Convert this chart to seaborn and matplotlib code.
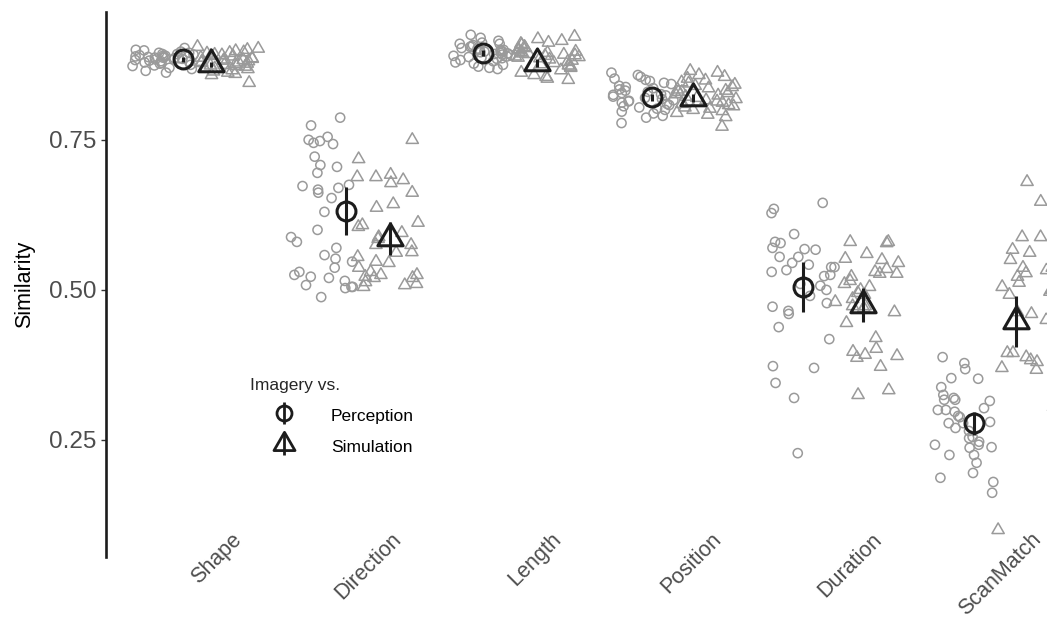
import numpy as np
import pandas as pd
import matplotlib
matplotlib.use("Agg")
import matplotlib.pyplot as plt
import matplotlib.transforms as mtransforms
from matplotlib.path import Path
from matplotlib.lines import Line2D
from matplotlib.legend_handler import HandlerTuple
import seaborn as sns

# ---------------------------------------------------------------- data
measures = ["Shape", "Direction", "Length", "Position", "Duration", "ScanMatch"]
comparisons = ["Perception", "Simulation"]

# per-participant similarity scores, imagery vs. perception
shape_perception = [0.900, 0.897, 0.895, 0.893, 0.892, 0.890, 0.890, 0.889, 0.888, 0.887,
                    0.886, 0.885, 0.884, 0.883, 0.882, 0.880, 0.879, 0.877, 0.875, 0.873,
                    0.870, 0.868, 0.865, 0.862, 0.895, 0.891, 0.888, 0.886, 0.884, 0.881,
                    0.899, 0.893, 0.887, 0.878, 0.874, 0.903]
direction_perception = [0.787, 0.774, 0.755, 0.750, 0.748, 0.745, 0.743, 0.722, 0.708, 0.705,
                        0.695, 0.675, 0.673, 0.670, 0.667, 0.662, 0.653, 0.630, 0.600, 0.588,
                        0.580, 0.570, 0.558, 0.552, 0.547, 0.537, 0.525, 0.522, 0.520, 0.508,
                        0.505, 0.505, 0.503, 0.488, 0.515, 0.530]
length_perception = [0.925, 0.920, 0.915, 0.912, 0.910, 0.908, 0.906, 0.905, 0.903, 0.902,
                     0.900, 0.899, 0.898, 0.897, 0.896, 0.895, 0.894, 0.893, 0.892, 0.891,
                     0.890, 0.889, 0.888, 0.887, 0.886, 0.885, 0.883, 0.881, 0.879, 0.877,
                     0.875, 0.872, 0.870, 0.868, 0.900, 0.910]
position_perception = [0.862, 0.858, 0.855, 0.852, 0.850, 0.848, 0.845, 0.843, 0.840, 0.838,
                       0.836, 0.834, 0.832, 0.830, 0.828, 0.826, 0.824, 0.822, 0.820, 0.818,
                       0.816, 0.814, 0.812, 0.810, 0.808, 0.806, 0.804, 0.802, 0.800, 0.797,
                       0.794, 0.790, 0.787, 0.778, 0.825, 0.815]
duration_perception = [0.645, 0.635, 0.628, 0.593, 0.580, 0.578, 0.570, 0.568, 0.567, 0.555,
                       0.555, 0.545, 0.542, 0.538, 0.538, 0.533, 0.530, 0.523, 0.525, 0.510,
                       0.507, 0.500, 0.490, 0.478, 0.472, 0.465, 0.460, 0.438, 0.418, 0.373,
                       0.370, 0.345, 0.320, 0.228]
scanmatch_perception = [0.388, 0.378, 0.368, 0.353, 0.352, 0.338, 0.325, 0.320, 0.317, 0.317,
                        0.315, 0.303, 0.300, 0.297, 0.300, 0.288, 0.278, 0.278, 0.280, 0.270,
                        0.255, 0.253, 0.247, 0.242, 0.242, 0.238, 0.237, 0.225, 0.225, 0.212,
                        0.195, 0.187, 0.180, 0.162, 0.290, 0.265]

# per-participant similarity scores, imagery vs. simulation
shape_simulation = [0.905, 0.902, 0.900, 0.898, 0.896, 0.894, 0.892, 0.890, 0.889, 0.887,
                    0.885, 0.884, 0.882, 0.880, 0.879, 0.877, 0.876, 0.874, 0.872, 0.870,
                    0.868, 0.866, 0.864, 0.862, 0.860, 0.858, 0.845, 0.891, 0.886, 0.881,
                    0.878, 0.873, 0.869, 0.883, 0.895, 0.875]
direction_simulation = [0.750, 0.718, 0.692, 0.688, 0.688, 0.683, 0.678, 0.662, 0.643, 0.637,
                        0.612, 0.608, 0.605, 0.595, 0.588, 0.585, 0.575, 0.575, 0.563, 0.562,
                        0.547, 0.537, 0.530, 0.525, 0.525, 0.522, 0.520, 0.520, 0.513, 0.508,
                        0.505, 0.510, 0.545, 0.555]
length_simulation = [0.922, 0.918, 0.915, 0.912, 0.910, 0.908, 0.905, 0.903, 0.901, 0.899,
                     0.897, 0.896, 0.895, 0.894, 0.893, 0.892, 0.891, 0.890, 0.889, 0.888,
                     0.887, 0.886, 0.884, 0.882, 0.880, 0.878, 0.876, 0.874, 0.872, 0.870,
                     0.866, 0.862, 0.858, 0.855, 0.852, 0.850]
position_simulation = [0.865, 0.862, 0.858, 0.855, 0.852, 0.849, 0.846, 0.844, 0.842, 0.840,
                       0.838, 0.836, 0.834, 0.832, 0.830, 0.828, 0.826, 0.824, 0.822, 0.820,
                       0.818, 0.816, 0.814, 0.812, 0.810, 0.808, 0.806, 0.804, 0.802, 0.800,
                       0.798, 0.795, 0.792, 0.788, 0.772, 0.830]
duration_simulation = [0.580, 0.580, 0.578, 0.560, 0.552, 0.550, 0.535, 0.527, 0.527, 0.522,
                       0.515, 0.510, 0.505, 0.500, 0.495, 0.492, 0.485, 0.480, 0.473, 0.473,
                       0.470, 0.463, 0.445, 0.420, 0.402, 0.397, 0.392, 0.390, 0.387, 0.372,
                       0.333, 0.325, 0.545, 0.530]
scanmatch_simulation = [0.680, 0.647, 0.588, 0.588, 0.567, 0.563, 0.562, 0.550, 0.537, 0.537,
                        0.533, 0.528, 0.522, 0.512, 0.508, 0.505, 0.500, 0.497, 0.492, 0.463,
                        0.460, 0.450, 0.433, 0.400, 0.395, 0.395, 0.388, 0.383, 0.380, 0.370,
                        0.367, 0.308, 0.305, 0.300, 0.300, 0.272, 0.100]

# condition means with confidence interval bounds
perception_mean = [0.884, 0.632, 0.895, 0.821, 0.505, 0.2775]
perception_lower = [0.880, 0.592, 0.890, 0.815, 0.463, 0.258]
perception_upper = [0.888, 0.672, 0.900, 0.827, 0.547, 0.297]
simulation_mean = [0.876, 0.586, 0.878, 0.820, 0.475, 0.4475]
simulation_lower = [0.872, 0.558, 0.872, 0.813, 0.447, 0.405]
simulation_upper = [0.880, 0.613, 0.884, 0.827, 0.503, 0.490]

y_ticks = [0.25, 0.50, 0.75]

# ---------------------------------------------------------------- layout / style
# horizontal placement of the summary markers within each measure
mean_shift = {"Perception": [-0.075, -0.056, -0.200, -0.144, -0.200, -0.131],
              "Simulation": [0.100, 0.219, 0.138, 0.113, 0.175, 0.131]}

POINT_GREY = "#9a9a9a"
INK = "#1c1c1c"
TICK_GREY = "#4d4d4d"

# equilateral triangle centred on its centroid
triangle = Path([(0.0, 1.0), (-0.8660254, -0.5), (0.8660254, -0.5), (0.0, 1.0)],
                [Path.MOVETO, Path.LINETO, Path.LINETO, Path.CLOSEPOLY])
markers = {"Perception": "o", "Simulation": triangle}
point_size = {"Perception": 6.6, "Simulation": 10.2}
mean_size = {"Perception": 13.6, "Simulation": 21.0}

sns.set_theme(style="white")
plt.rcParams["font.family"] = ["Liberation Sans", "DejaVu Sans"]

per_subject = {
    "Perception": [shape_perception, direction_perception, length_perception,
                   position_perception, duration_perception, scanmatch_perception],
    "Simulation": [shape_simulation, direction_simulation, length_simulation,
                   position_simulation, duration_simulation, scanmatch_simulation],
}
rows = []
for comp, series in per_subject.items():
    for measure, values in zip(measures, series):
        for v in values:
            rows.append({"measure": measure, "comparison": comp, "similarity": v})
df = pd.DataFrame(rows)

summary = {
    "Perception": (perception_mean, perception_lower, perception_upper),
    "Simulation": (simulation_mean, simulation_lower, simulation_upper),
}

W, H = 1047, 620
fig = plt.figure(figsize=(W / 100, H / 100), dpi=100)
fig.patch.set_facecolor("white")
ax = fig.add_axes([106 / W, 63 / H, (W - 106) / W, (557 - 12) / H])

np.random.seed(7)
palette = {c: POINT_GREY for c in comparisons}
for comp in comparisons:
    n_before = len(ax.collections)
    sns.stripplot(data=df[df["comparison"] == comp], x="measure", y="similarity",
                  hue="comparison", hue_order=comparisons, order=measures,
                  palette=palette, dodge=True, jitter=0.4,
                  marker=markers[comp], size=point_size[comp],
                  legend=False, ax=ax, zorder=2)
    for coll in ax.collections[n_before:]:
        coll.set_facecolor("none")
        coll.set_edgecolor(POINT_GREY)
        coll.set_linewidth(1.1)

for comp in comparisons:
    mean, lower, upper = summary[comp]
    xs = np.arange(len(measures)) + np.array(mean_shift[comp])
    yerr = [np.array(mean) - np.array(lower), np.array(upper) - np.array(mean)]
    ax.errorbar(xs, mean, yerr=yerr, linestyle="none", marker=markers[comp],
                ms=mean_size[comp], mfc="none", mec=INK, mew=2.2,
                ecolor=INK, elinewidth=2.2, capsize=0, zorder=5)

# axes
ax.set_xlim(-0.556, (W - 195) / 160)
ax.set_ylim(0.055, 0.963)
ax.set_yticks(y_ticks)
ax.set_yticklabels([f"{t:.2f}" for t in y_ticks])
ax.set_xticks(range(len(measures)))
ax.set_xticklabels(measures)
ax.set_xlabel("")
ax.set_ylabel("Similarity", fontsize=15.5, color="black", labelpad=10)

for side in ("top", "right", "bottom"):
    ax.spines[side].set_visible(False)
ax.spines["left"].set_color(INK)
ax.spines["left"].set_linewidth(1.9)

ax.tick_params(axis="y", length=3.5, width=1.0, color="#333333",
               labelsize=17.5, labelcolor=TICK_GREY, pad=3.5, left=True)
ax.tick_params(axis="x", length=0, labelsize=15.5, labelcolor=TICK_GREY, pad=0)
# rotated labels: right end of each label sits up and to the right of its tick
shift = mtransforms.ScaledTranslation(36 / 100, 28 / 100, fig.dpi_scale_trans)
for lab in ax.get_xticklabels():
    lab.set_rotation(45)
    lab.set_rotation_mode("anchor")
    lab.set_ha("right")
    lab.set_va("top")
    lab.set_transform(lab.get_transform() + shift)

# legend
handles = []
for comp, key_size in zip(comparisons, (10.8, 17.5)):
    bar = Line2D([], [], linestyle="none", marker="|", ms=16.5, mew=2.0, color=INK)
    sym = Line2D([], [], linestyle="none", marker=markers[comp], ms=key_size,
                 mfc="none", mec=INK, mew=2.0)
    handles.append((bar, sym))
leg = ax.legend(handles, comparisons, title="Imagery vs.",
                handler_map={tuple: HandlerTuple(ndivide=1, pad=0)},
                loc="upper left", bbox_to_anchor=(250 / W, 1 - 378 / H),
                bbox_transform=fig.transFigure, frameon=False,
                fontsize=12.5, title_fontsize=12.5, alignment="left",
                handlelength=3.9, handleheight=1.2, handletextpad=0.75,
                labelspacing=0.75, borderpad=0, borderaxespad=0)
for t in leg.get_texts():
    t.set_color("black")

fig.savefig("out.png", dpi=100, facecolor="white")
